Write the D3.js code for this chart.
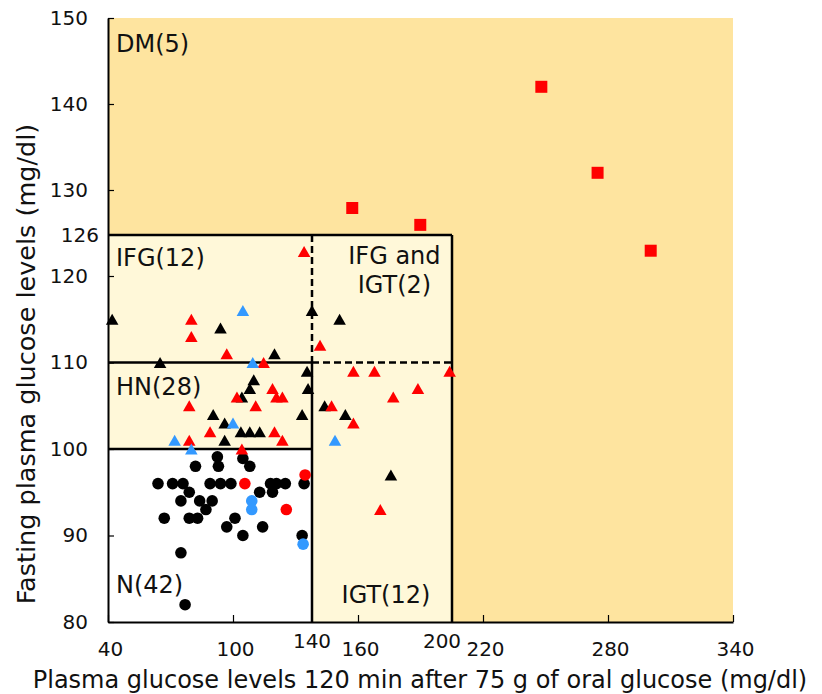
<!DOCTYPE html>
<html>
<head>
<meta charset="utf-8">
<script src="https://cdn.jsdelivr.net/npm/d3@7"></script>
<style>
  body { margin: 0; background: #fff; }
  text { font-family: "DejaVu Sans", Verdana, sans-serif; fill: #111; }
</style>
</head>
<body>
<div id="wrapper"></div>
<script>
// values: [2-h glucose, fasting glucose]
const blackCircles = [[92.5,99.1],[93,98],[82,98],[105,98.9],[108.5,98],[64,96],[71,96],[76,96],[89,96],[94,96],
  [99,96],[119,96],[122,96],[126.5,96],[136,96],[79,95],[113.5,95],[120,95],[75,94],[84,94],[90,94],[87,93],
  [67,92],[79,92],[83,92],[101,92],[97,91],[115,91],[105,90],[135,90],[75,88],[77,82]];
const redCircles = [[106,96],[127,93],[136.5,97]];
const blueCircles = [[109.5,94],[109.5,93],[135.5,89]];

const blackTriangles = [[42,115],[94,114],[121,111],[65,110],[140,116],[137.5,109],[110.5,108],[108.5,107],
  [138,107],[104.5,106],[90.5,104],[135,104],[96,103],[104,102],[108.5,102],[113.5,102],[96,101],[152,115],
  [145.5,105],[154.5,104],[174,97]];
const redTriangles = [[80,115],[80,113],[97,111],[115.5,110],[120,107],[102,106],[122,106],[125,106],[79,105],
  [111.5,105],[89,102],[121,102],[79,101],[125,101],[104.5,100],[136,123.6],[143.5,112],[158,109],[167,109],
  [199,109],[185.5,107],[175,106],[148.5,105],[158,103],[169.5,93]];
const blueTriangles = [[105,116],[110,110],[100,103],[72,101],[80,100],[150,101]];

const redSquares = [[248,142],[275,132],[157.5,128.4],[186.5,126.9],[300.5,123.7]];

const xTicks = [40, 100, 160, 220, 280, 340];
const xCutLabels = [140, 200];
const yTicks = [80, 90, 100, 110, 120, 130, 140, 150];
const yCutLabel = 126;

const regionLabels = [
  {text: "DM(5)", x: 40, y: 146},
  {text: "IFG(12)", x: 40, y: 121.5},
  {text: "HN(28)", x: 40, y: 106.2},
  {text: "N(42)", x: 40, y: 83.3},
  {text: "IGT(12)", x: 149.4, y: 82.2}
];

const width = 822, height = 694;
const svg = d3.select("#wrapper").append("svg")
  .attr("width", width).attr("height", height)
  .attr("viewBox", [0, 0, width, height]);

// the original figure's axes are not evenly spaced, so the scales follow its tick positions
const x = d3.scaleLinear().domain([40, 100, 140, 160, 200, 220, 340]).range([108, 233, 312, 358, 452, 483, 733]);
const y = d3.scaleLinear().domain([80, 120, 126, 130, 150]).range([622, 276, 235, 190, 18]);

const orange = "#fee49f", cream = "#fff8d9", blue = "#3399ff", red = "#ff0000";
const tickFont = "20px";

// background regions
const rect = (x0, x1, y0, y1, fill) => svg.append("rect")
  .attr("x", x(x0)).attr("y", y(y1))
  .attr("width", x(x1) - x(x0)).attr("height", y(y0) - y(y1))
  .attr("fill", fill);
rect(40, 340, 80, 150, orange);
rect(40, 200, 80, 126, cream);
rect(40, 140, 80, 100, "#ffffff");

// region borders
const seg = (x0, y0, x1, y1, dashed) => svg.append("line")
  .attr("x1", x(x0)).attr("y1", y(y0)).attr("x2", x(x1)).attr("y2", y(y1))
  .attr("stroke", "#000").attr("stroke-width", 2.5)
  .attr("stroke-dasharray", dashed ? "7,4" : null);
seg(40, 126, 200, 126);
seg(200, 126, 200, 80);
seg(40, 110, 140, 110);
seg(140, 110, 200, 110, true);
seg(140, 126, 140, 110, true);
seg(140, 110, 140, 80);
seg(40, 100, 140, 100);

// region labels
svg.selectAll(".region").data(regionLabels).join("text")
  .attr("class", "region")
  .attr("x", d => x(d.x) + 8).attr("y", d => y(d.y))
  .style("font-size", "24px")
  .text(d => d.text);
const both = svg.append("text").attr("x", x(175.5)).attr("y", y(121.76))
  .attr("text-anchor", "middle").style("font-size", "24px");
both.append("tspan").attr("x", x(175.5)).text("IFG and");
both.append("tspan").attr("x", x(175.5)).attr("dy", 29).text("IGT(2)");

// markers
const triangle = {
  draw(ctx, size) {
    const h = Math.sqrt(size);
    ctx.moveTo(0, -h / 2);
    ctx.lineTo(h * 0.57, h / 2);
    ctx.lineTo(-h * 0.57, h / 2);
    ctx.closePath();
  }
};
const addCircles = (data, fill) => svg.append("g").selectAll("circle").data(data).join("circle")
  .attr("cx", d => x(d[0])).attr("cy", d => y(d[1])).attr("r", 5.8).attr("fill", fill);
const addTriangles = (data, fill) => svg.append("g").selectAll("path").data(data).join("path")
  .attr("transform", d => `translate(${x(d[0])},${y(d[1])})`)
  .attr("d", d3.symbol().type(triangle).size(121)).attr("fill", fill);

addCircles(blackCircles, "#000");
addCircles(redCircles, red);
addCircles(blueCircles, blue);
addTriangles(blackTriangles, "#000");
addTriangles(redTriangles, red);
addTriangles(blueTriangles, blue);
svg.append("g").selectAll("rect").data(redSquares).join("rect")
  .attr("x", d => x(d[0]) - 6).attr("y", d => y(d[1]) - 6)
  .attr("width", 12).attr("height", 12).attr("fill", red);

// axes
const xAxis = d3.axisBottom(x).tickValues(xTicks).tickSizeInner(-7).tickSizeOuter(0).tickPadding(19.5);
const gx = svg.append("g").attr("transform", `translate(0,${y(80)})`).call(xAxis);
gx.selectAll("text").attr("dx", 2).attr("fill", "#111")
  .style("font-size", tickFont).style("font-family", "DejaVu Sans");

const yAxis = d3.axisLeft(y).tickValues(yTicks).tickSizeInner(-6).tickSizeOuter(0).tickPadding(20);
const gy = svg.append("g").attr("transform", `translate(${x(40)},0)`).call(yAxis);
gy.selectAll("text").attr("fill", "#111")
  .style("font-size", tickFont).style("font-family", "DejaVu Sans");

[gx, gy].forEach(g => {
  g.select(".domain").attr("stroke-width", 2);
  g.selectAll(".tick line").attr("stroke-width", 1.2);
});

// 140 and 200 sit a little higher than the regular x labels
svg.selectAll(".cutx").data(xCutLabels).join("text")
  .attr("class", "cutx")
  .attr("x", (d, i) => x(d) + (i ? -10 : 0)).attr("y", y(80) + 26)
  .attr("text-anchor", "middle").style("font-size", tickFont)
  .text(d => d);

svg.append("text")
  .attr("x", x(40) - 9).attr("y", y(yCutLabel)).attr("dy", "0.35em")
  .attr("text-anchor", "end").style("font-size", tickFont).text(yCutLabel);

// axis titles
svg.append("text")
  .attr("x", 420).attr("y", 688)
  .attr("text-anchor", "middle").style("font-size", "24px")
  .text("Plasma glucose levels 120 min after 75 g of oral glucose (mg/dl)");
svg.append("text")
  .attr("transform", `translate(35, 364) rotate(-90)`)
  .attr("text-anchor", "middle").style("font-size", "25.5px")
  .text("Fasting plasma glucose levels (mg/dl)");
</script>
</body>
</html>
